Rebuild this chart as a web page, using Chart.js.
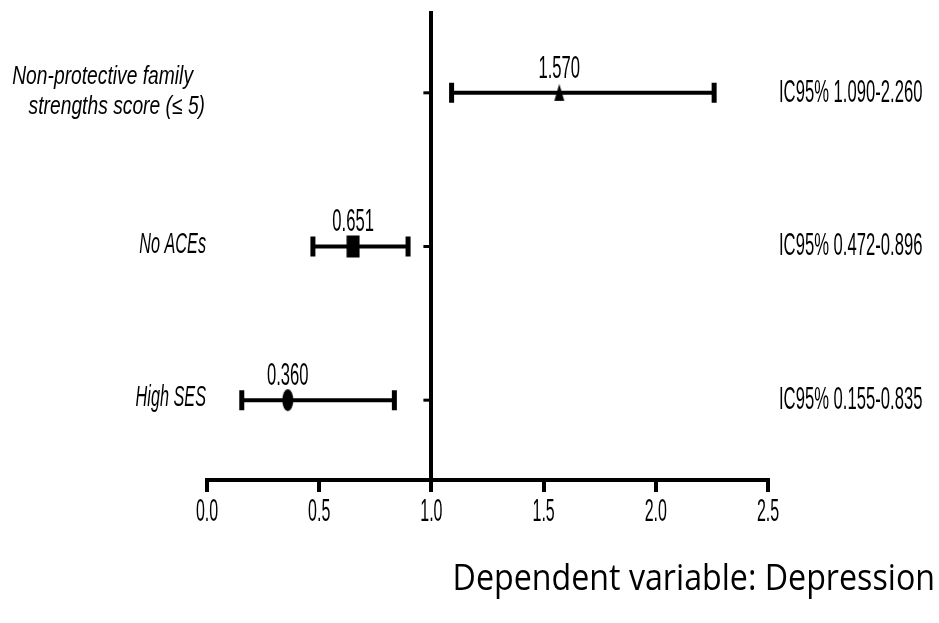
<!DOCTYPE html>
<html>
<head>
<meta charset="utf-8">
<script src="https://cdn.jsdelivr.net/npm/chart.js@4.4.1/dist/chart.umd.min.js"></script>
<style>
    html, body { margin: 0; padding: 0; background: #fff; }
    #wrap { width: 939px; height: 623px; }
</style>
</head>
<body>
<div id="wrap"><canvas id="forestChart" width="939" height="623"></canvas></div>
<script>
// data
const categories = [["Non-protective family", "strengths score (\u2264 5)"], ["No ACEs"], ["High SES"]];
const rowPositions = [3, 2, 1];
const oddsRatios = [1.570, 0.651, 0.360];
const ciLower = [1.090, 0.472, 0.155];
const ciUpper = [2.260, 0.896, 0.835];
const valueLabels = ["1.570", "0.651", "0.360"];
const ciLabels = ["IC95% 1.090-2.260", "IC95% 0.472-0.896", "IC95% 0.155-0.835"];
const xTicks = [0, 0.5, 1, 1.5, 2, 2.5];
const xTickLabels = ["0.0", "0.5", "1.0", "1.5", "2.0", "2.5"];
const markerShapes = ["triangle", "square", "ellipse"];
const axisTitle = "Dependent variable: Depression";

// small canvases used as point styles
function makeMarker(shape) {
    const c = document.createElement("canvas");
    c.width = 14;
    c.height = 24;
    const g = c.getContext("2d");
    g.fillStyle = "#000";
    g.beginPath();
    if (shape === "triangle") {
        g.moveTo(7, 3);
        g.lineTo(12, 20);
        g.lineTo(2, 20);
        g.closePath();
    } else if (shape === "square") {
        g.rect(0.5, 1, 13, 22);
    } else {
        g.ellipse(7, 12, 5.5, 11, 0, 0, Math.PI * 2);
    }
    g.fill();
    return c;
}
const markerImages = markerShapes.map(makeMarker);

// narrow text: the picture's labels are horizontally squeezed
function squishText(ctx, text, x, y, font, sx, align, baseline) {
    ctx.save();
    ctx.font = font;
    ctx.fillStyle = "#000";
    ctx.textBaseline = baseline || "middle";
    ctx.textAlign = align;
    ctx.translate(x, y);
    ctx.scale(sx, 1);
    ctx.fillText(text, 0, 0);
    ctx.restore();
}

const forestPlugin = {
    id: "forestPlugin",
    beforeDatasetsDraw(chart) {
        const ctx = chart.ctx;
        const xs = chart.scales.x;
        const ys = chart.scales.y;
        ctx.save();
        ctx.strokeStyle = "#000";
        rowPositions.forEach((row, i) => {
            const y = ys.getPixelForValue(row);
            const x1 = xs.getPixelForValue(ciLower[i]);
            const x2 = xs.getPixelForValue(ciUpper[i]);
            ctx.lineWidth = 4;
            ctx.beginPath();
            ctx.moveTo(x1, y);
            ctx.lineTo(x2, y);
            ctx.stroke();
            ctx.lineWidth = 5;
            ctx.beginPath();
            ctx.moveTo(x1, y - 10);
            ctx.lineTo(x1, y + 10);
            ctx.moveTo(x2, y - 10);
            ctx.lineTo(x2, y + 10);
            ctx.stroke();
            // small tick on the reference line
            const xr = xs.getPixelForValue(1);
            ctx.lineWidth = 3;
            ctx.beginPath();
            ctx.moveTo(xr - 8, y);
            ctx.lineTo(xr, y);
            ctx.stroke();
        });
        ctx.restore();
    },
    afterDraw(chart) {
        const ctx = chart.ctx;
        const xs = chart.scales.x;
        const ys = chart.scales.y;
        const numFont = "32px 'Liberation Sans', Arial, sans-serif";
        rowPositions.forEach((row, i) => {
            const y = ys.getPixelForValue(row);
            squishText(ctx, valueLabels[i], xs.getPixelForValue(oddsRatios[i]), y - 24, numFont, 0.52, "center");
            squishText(ctx, ciLabels[i], chart.chartArea.right + 11, y, numFont, 0.52, "left");
            const lines = categories[i];
            if (lines.length > 1) {
                squishText(ctx, lines[0], 193, y - 16, "italic 25px 'Liberation Sans', Arial, sans-serif", 0.77, "right");
                squishText(ctx, lines[1], 205, y + 14, "italic 25px 'Liberation Sans', Arial, sans-serif", 0.77, "right");
            } else {
                squishText(ctx, lines[0], 206, y - 2, "italic 29px 'Liberation Sans', Arial, sans-serif", 0.56, "right");
            }
        });
        xTicks.forEach((v, i) => {
            squishText(ctx, xTickLabels[i], xs.getPixelForValue(v), 512, numFont, 0.5, "center");
        });
        squishText(ctx, axisTitle, 935, 590, "37px 'Open Sans', 'Noto Sans', sans-serif", 0.87, "right", "alphabetic");
    }
};

new Chart(document.getElementById("forestChart"), {
    type: "scatter",
    data: {
        datasets: [{
            data: rowPositions.map((row, i) => ({x: oddsRatios[i], y: row})),
            pointStyle: ctx => markerImages[ctx.dataIndex],
            pointRadius: 10,
            backgroundColor: "#000",
            borderColor: "#000"
        }]
    },
    options: {
        responsive: false,
        animation: false,
        layout: {padding: {left: 207, right: 171, top: 10, bottom: 0}},
        plugins: {legend: {display: false}, tooltip: {enabled: false}},
        scales: {
            x: {
                type: "linear",
                min: 0,
                max: 2.5,
                afterBuildTicks: scale => {
                    scale.ticks = xTicks.map(v => ({value: v}));
                },
                afterFit: scale => {
                    scale.height = 143;
                },
                ticks: {display: false},
                grid: {
                    color: ctx => (ctx.tick && ctx.tick.value === 1) ? "#000" : "rgba(0,0,0,0)",
                    lineWidth: 4,
                    drawTicks: true,
                    tickLength: 12,
                    tickColor: "#000",
                    tickWidth: 4
                },
                border: {display: true, color: "#000", width: 4}
            },
            y: {
                type: "linear",
                min: 0.4805,
                max: 3.5325,
                display: false
            }
        }
    },
    plugins: [forestPlugin]
});
</script>
</body>
</html>
